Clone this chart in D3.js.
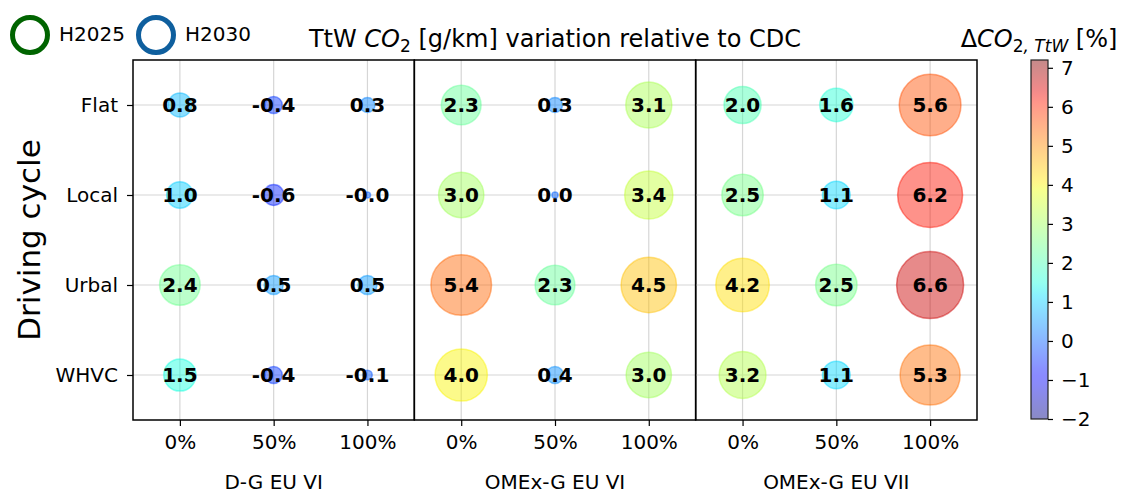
<!DOCTYPE html>
<html>
<head>
<meta charset="utf-8">
<script src="https://cdn.jsdelivr.net/npm/d3@7/dist/d3.min.js"></script>
<style>
  html, body { margin: 0; padding: 0; background: #fff; }
  svg { display: block; font-family: "DejaVu Sans", sans-serif; }
</style>
</head>
<body>
<svg id="chart" width="1128" height="495"></svg>
<script>
// Driving cycles (rows) and hydrogen share levels (columns within each powertrain group)
const cycles = ["Flat", "Local", "Urbal", "WHVC"];
const shares = ["0%", "50%", "100%"];
const groups = ["D-G EU VI", "OMEx-G EU VI", "OMEx-G EU VII"];

// TtW CO2 change [%] per cycle, ordered as shares
const dgEU6   = [[0.8, -0.4, 0.3], [1.0, -0.6, -0.02], [2.4, 0.5, 0.5], [1.5, -0.4, -0.1]];
const omexEU6 = [[2.3, 0.3, 3.1], [3.0, 0.02, 3.4], [5.4, 2.3, 4.5], [4.0, 0.4, 3.0]];
const omexEU7 = [[2.0, 1.6, 5.6], [2.5, 1.1, 6.2], [4.2, 2.5, 6.6], [3.2, 1.1, 5.3]];
const groupValues = [dgEU6, omexEU6, omexEU7];

const colorbarTicks = [-2, -1, 0, 1, 2, 3, 4, 5, 6, 7];
const colorDomain = [-2, 7.2];

const legendItems = [
  { name: "H2025", color: "#006400" },
  { name: "H2030", color: "#0f5f9e" }
];

// matplotlib "jet" colormap
function jet(t) {
  t = Math.max(0, Math.min(1, t));
  const seg = (pts) => {
    for (let i = 1; i < pts.length; i++) {
      if (t <= pts[i][0]) {
        const [x0, y0] = pts[i - 1], [x1, y1] = pts[i];
        return y0 + (y1 - y0) * (t - x0) / (x1 - x0);
      }
    }
    return pts[pts.length - 1][1];
  };
  const r = seg([[0, 0], [0.35, 0], [0.66, 1], [0.89, 1], [1, 0.5]]);
  const g = seg([[0, 0], [0.125, 0], [0.375, 1], [0.64, 1], [0.91, 0], [1, 0]]);
  const b = seg([[0, 0.5], [0.11, 1], [0.34, 1], [0.65, 0], [1, 0]]);
  return d3.rgb(r * 255, g * 255, b * 255).formatHex();
}

const svg = d3.select("#chart");
const plot = { left: 133, right: 977, top: 60, bottom: 420 };
const alpha = 0.46;
const tickFont = 20;

const norm = d3.scaleLinear().domain(colorDomain).range([0, 1]);
const color = v => jet(norm(v));
const radius = v => Math.sqrt(169 * Math.abs(v) + 6.25);

const panelScale = d3.scaleBand().domain(groups).range([plot.left, plot.right]).padding(0);
const y = d3.scalePoint().domain(cycles).range([plot.top, plot.bottom]).padding(0.5);

groups.forEach((grp, gi) => {
  const x0 = panelScale(grp), x1 = x0 + panelScale.bandwidth();
  const x = d3.scalePoint().domain(shares).range([x0, x1]).padding(0.5);
  const g = svg.append("g");

  // grid
  g.selectAll("line.vg").data(shares).join("line")
    .attr("x1", d => x(d)).attr("x2", d => x(d))
    .attr("y1", plot.top).attr("y2", plot.bottom)
    .attr("stroke", "#d6d6d6").attr("stroke-width", 1.2);
  g.selectAll("line.hg").data(cycles).join("line")
    .attr("x1", x0).attr("x2", x1)
    .attr("y1", d => y(d)).attr("y2", d => y(d))
    .attr("stroke", "#d6d6d6").attr("stroke-width", 1.2);

  // bubbles
  const cells = [];
  groupValues[gi].forEach((row, ri) => row.forEach((v, ci) => cells.push({ cycle: cycles[ri], share: shares[ci], v })));
  g.selectAll("circle.b").data(cells).join("circle")
    .attr("cx", d => x(d.share)).attr("cy", d => y(d.cycle))
    .attr("r", d => radius(d.v))
    .attr("fill", d => color(d.v)).attr("fill-opacity", alpha)
    .attr("stroke", d => color(d.v)).attr("stroke-opacity", alpha).attr("stroke-width", 1.5);
  g.selectAll("text.val").data(cells).join("text")
    .attr("x", d => x(d.share)).attr("y", d => y(d.cycle))
    .attr("dy", "0.36em").attr("text-anchor", "middle")
    .attr("font-size", 20).attr("font-weight", "bold").attr("fill", "#000")
    .text(d => d.v.toFixed(1));

  // x axis
  const ax = g.append("g").attr("transform", `translate(0,${plot.bottom})`)
    .call(d3.axisBottom(x).tickSize(6).tickPadding(9));
  ax.select(".domain").remove();
  ax.selectAll(".tick line").attr("stroke", "#000").attr("stroke-width", 1.2);
  ax.selectAll(".tick text").attr("font-size", tickFont).attr("fill", "#000").attr("font-family", "DejaVu Sans");

  // group label
  g.append("text").attr("x", (x0 + x1) / 2).attr("y", 489)
    .attr("text-anchor", "middle").attr("font-size", 20).attr("fill", "#000")
    .text(grp);

  // panel frame
  g.append("rect").attr("x", x0).attr("y", plot.top)
    .attr("width", x1 - x0).attr("height", plot.bottom - plot.top)
    .attr("fill", "none").attr("stroke", "#000").attr("stroke-width", 1.5);
});

// y axis
const ay = svg.append("g").attr("transform", `translate(${plot.left},0)`)
  .call(d3.axisLeft(y).tickSize(6).tickPadding(9));
ay.select(".domain").remove();
ay.selectAll(".tick line").attr("stroke", "#000").attr("stroke-width", 1.2);
ay.selectAll(".tick text").attr("font-size", tickFont).attr("fill", "#000").attr("font-family", "DejaVu Sans");

svg.append("text")
  .attr("transform", `translate(40,${(plot.top + plot.bottom) / 2}) rotate(-90)`)
  .attr("text-anchor", "middle").attr("font-size", 31).attr("fill", "#000")
  .text("Driving cycle");

// title
const title = svg.append("text").attr("x", (plot.left + plot.right) / 2).attr("y", 47)
  .attr("text-anchor", "middle").attr("font-size", 24).attr("fill", "#000");
title.append("tspan").text("TtW ");
title.append("tspan").attr("font-style", "italic").text("CO");
title.append("tspan").attr("font-size", 17).attr("dy", 5).text("2");
title.append("tspan").attr("dy", -5).text(" [g/km] variation relative to CDC");

// legend
const leg = svg.append("g");
legendItems.forEach((it, i) => {
  const cx = 30 + i * 126;
  leg.append("circle").attr("cx", cx).attr("cy", 35).attr("r", 17.5)
    .attr("fill", "none").attr("stroke", it.color).attr("stroke-width", 5);
  leg.append("text").attr("x", cx + 29).attr("y", 41)
    .attr("font-size", 20).attr("fill", "#000").text(it.name);
});

// colorbar
const cb = { x: 1031, w: 17, top: 60, bottom: 419 };
const cy = d3.scaleLinear().domain(colorDomain).range([cb.bottom, cb.top]);
const grad = svg.append("defs").append("linearGradient").attr("id", "cbgrad")
  .attr("x1", 0).attr("y1", 1).attr("x2", 0).attr("y2", 0);
d3.range(0, 1.0001, 0.02).forEach(t => {
  grad.append("stop").attr("offset", t).attr("stop-color", jet(t));
});
svg.append("rect").attr("x", cb.x).attr("y", cb.top).attr("width", cb.w).attr("height", cb.bottom - cb.top)
  .attr("fill", "url(#cbgrad)").attr("opacity", alpha);
svg.append("rect").attr("x", cb.x).attr("y", cb.top).attr("width", cb.w).attr("height", cb.bottom - cb.top)
  .attr("fill", "none").attr("stroke", "#222").attr("stroke-width", 1.2);
const acb = svg.append("g").attr("transform", `translate(${cb.x + cb.w},0)`)
  .call(d3.axisRight(cy).tickValues(colorbarTicks).tickSize(5).tickPadding(8)
    .tickFormat(d => d < 0 ? "\u2212" + Math.abs(d) : String(d)));
acb.select(".domain").remove();
acb.selectAll(".tick line").attr("stroke", "#000").attr("stroke-width", 1.2);
acb.selectAll(".tick text").attr("font-size", tickFont).attr("fill", "#000").attr("font-family", "DejaVu Sans");

// colorbar label
const cbl = svg.append("text").attr("x", 1039).attr("y", 47)
  .attr("text-anchor", "middle").attr("font-size", 24).attr("fill", "#000");
cbl.append("tspan").text("\u0394");
cbl.append("tspan").attr("font-style", "italic").text("CO");
cbl.append("tspan").attr("font-size", 17).attr("dy", 5).text("2");
cbl.append("tspan").attr("font-size", 17).attr("font-style", "italic").text(", TtW");
cbl.append("tspan").attr("dy", -5).text(" [%]");
</script>
</body>
</html>
